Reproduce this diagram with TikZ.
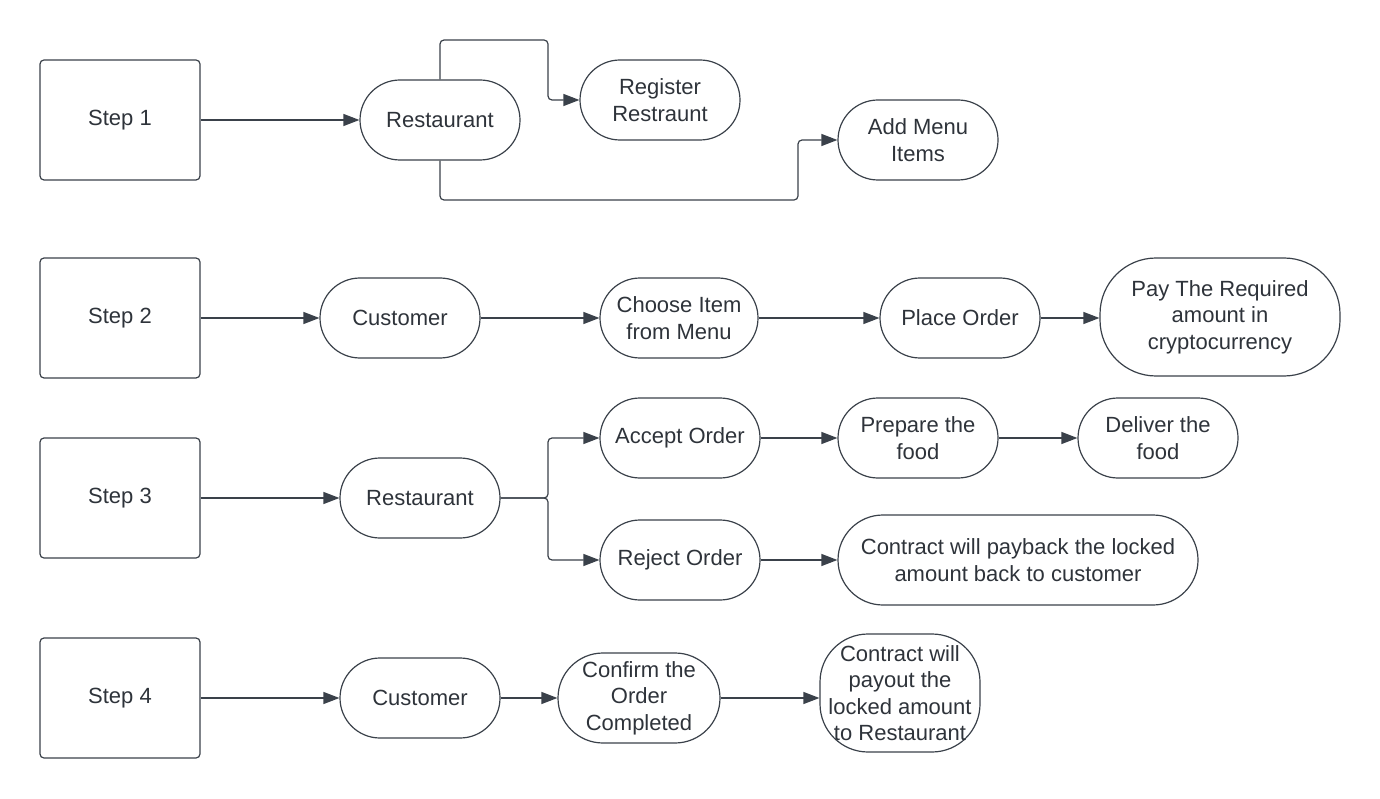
\documentclass[tikz,border=0pt]{standalone}
\usepackage{fontspec}
\setmainfont{Liberation Sans}
\usetikzlibrary{arrows.meta}
\definecolor{lineclr}{HTML}{3A414A}
\definecolor{textclr}{HTML}{2E333A}
\begin{document}
\begin{tikzpicture}[
    x=1pt, y=-1pt,
    every node/.style={text=textclr, font=\fontsize{22}{26.5}\selectfont},
    stepbox/.style={draw=lineclr, line width=1.2pt, rounded corners=4pt, minimum width=160pt, minimum height=120pt, inner sep=0pt},
    term/.style={draw=lineclr, line width=1.2pt, rounded corners=40pt, minimum width=160pt, minimum height=80pt, inner sep=0pt, align=center},
    bigterm/.style={term, rounded corners=45pt, minimum height=90pt},
    arrow/.style={-{Triangle[length=16pt, width=12pt]}, draw=lineclr, line width=1.2pt, rounded corners=4pt}
  ]
  \useasboundingbox (0,0) rectangle (1380,799);

  % Step 1 - restaurant setup
  \node[stepbox] (step1) at (120,120) {Step 1};
  \node[term] (rest1) at (440,120) {Restaurant};
  \node[term] (reg) at (660,100) {Register\\Restraunt};
  \node[term] (menu) at (918,140) {Add Menu\\Items};

  \draw[arrow] (step1) -- (rest1);
  \draw[arrow] (rest1.north) |- (548,40) |- (reg.west);
  \draw[arrow] (rest1.south) |- (798,200) |- (menu.west);

  % Step 2 - customer orders
  \node[stepbox] (step2) at (120,318) {Step 2};
  \node[term] (cust2) at (400,318) {Customer};
  \node[term, minimum width=158pt] (choose) at (679,318) {Choose Item\\from Menu};
  \node[term] (place) at (960,318) {Place Order};
  \node[term, rounded corners=56pt, minimum width=240pt, minimum height=118pt] (pay) at (1220,317) {Pay The Required\\amount in\\cryptocurrency};

  \draw[arrow] (step2) -- (cust2);
  \draw[arrow] (cust2) -- (choose);
  \draw[arrow] (choose) -- (place);
  \draw[arrow] (place) -- (place -| pay.west);

  % Step 3 - restaurant decides
  \node[stepbox] (step3) at (120,498) {Step 3};
  \node[term] (rest3) at (420,498) {Restaurant};
  \node[term] (accept) at (680,438) {Accept Order};
  \node[term] (prep) at (918,438) {Prepare the\\food};
  \node[term] (deliver) at (1158,438) {Deliver the\\food};
  \node[term] (reject) at (680,560) {Reject Order};
  \node[bigterm, minimum width=360pt] (payback) at (1018,560) {Contract will payback the locked\\amount back to customer};
  \coordinate (fork) at (548,498);

  \draw[arrow] (step3) -- (rest3);
  \draw[arrow] (rest3.east) -- (fork) |- (accept.west);
  \draw[arrow] (rest3.east) -- (fork) |- (reject.west);
  \draw[arrow] (accept) -- (prep);
  \draw[arrow] (prep) -- (deliver);
  \draw[arrow] (reject) -- (payback);

  % Step 4 - customer confirms
  \node[stepbox] (step4) at (120,698) {Step 4};
  \node[term] (cust4) at (420,698) {Customer};
  \node[bigterm, minimum width=162pt] (confirm) at (639,698) {Confirm the\\Order\\Completed};
  \node[term, rounded corners=48pt, minimum height=118pt] (payout) at (900,693) {Contract will\\payout the\\locked amount\\to Restaurant};

  \draw[arrow] (step4) -- (cust4);
  \draw[arrow] (cust4) -- (confirm);
  \draw[arrow] (confirm) -- (confirm -| payout.west);

\end{tikzpicture}
\end{document}
